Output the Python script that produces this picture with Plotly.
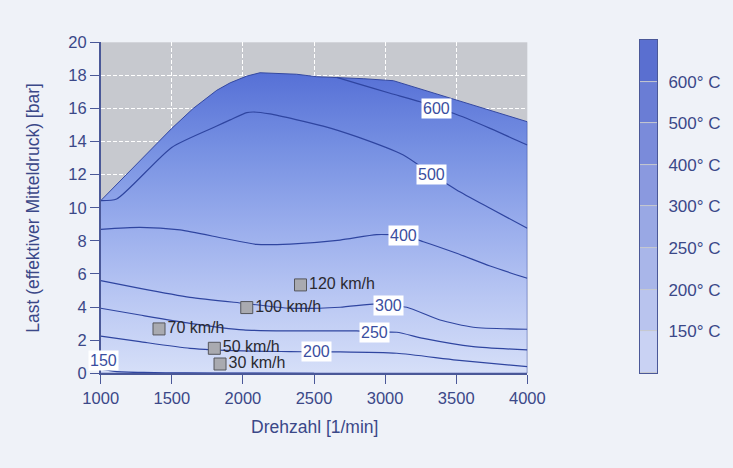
import plotly.graph_objects as go

# Engine speed [1/min] and full-load boundary (mean effective pressure [bar])
full_load_rpm = [1000, 1250, 1500, 1650, 1816, 1910, 2027, 2120, 2250, 2378,
                 2519, 2660, 2850, 3058, 3269, 3503, 3738, 4000]
full_load_bar = [10.43, 12.6, 14.8, 16.0, 17.1, 17.55, 17.96, 18.16, 18.12, 18.07,
                 17.92, 17.88, 17.8, 17.68, 17.12, 16.51, 15.91, 15.2]

# Exhaust-temperature isolines (rpm, bar) per level
iso_600_rpm = [2660, 2800, 3035, 3246, 3363, 3480, 3738, 4000]
iso_600_bar = [17.88, 17.52, 16.92, 16.41, 16.01, 15.71, 14.80, 13.79]

iso_500_rpm = [1000, 1112, 1499, 1816, 1910, 2027, 2073, 2190, 2565, 2800, 3128, 3327, 3503, 3738, 4000]
iso_500_bar = [10.43, 10.53, 13.65, 14.94, 15.31, 15.75, 15.79, 15.67, 14.94, 14.30, 13.19, 12.04, 11.08, 9.97, 8.76]

iso_400_rpm = [1000, 1276, 1558, 1862, 2097, 2331, 2683, 2941, 3128, 3269, 3503, 3738, 4000]
iso_400_bar = [8.70, 8.82, 8.66, 8.16, 7.79, 7.81, 8.05, 8.38, 8.32, 7.95, 7.25, 6.48, 5.74]

iso_300_rpm = [1000, 1276, 1628, 2003, 2331, 2683, 2941, 3023, 3152, 3386, 3620, 4000]
iso_300_bar = [5.60, 5.13, 4.59, 4.23, 3.93, 3.99, 4.19, 4.09, 3.99, 3.22, 2.78, 2.66]

iso_250_rpm = [1000, 1276, 1628, 2003, 2331, 2800, 2924, 3082, 3269, 3620, 4000]
iso_250_bar = [3.93, 3.52, 3.02, 2.62, 2.56, 2.56, 2.48, 2.48, 2.11, 1.61, 1.41]

iso_200_rpm = [1000, 1276, 1628, 2003, 2331, 2519, 2683, 3082, 3503, 4000]
iso_200_bar = [2.25, 1.91, 1.51, 1.35, 1.31, 1.29, 1.29, 1.21, 0.80, 0.40]

iso_150_rpm = [1000, 1100, 1300, 1600, 2000, 2500]
iso_150_bar = [0.25, 0.12, 0.05, 0.02, 0.01, 0.0]

# Isoline label positions
iso_labels = ["600", "500", "400", "300", "250", "200", "150"]
iso_label_rpm = [3363, 3327, 3128, 3023, 2924, 2519, 1023]
iso_label_bar = [16.01, 12.04, 8.32, 4.09, 2.48, 1.29, 0.80]

# Vehicle speed operating points
speed_labels = ["120 km/h", "100 km/h", "70 km/h", "50 km/h", "30 km/h"]
speed_rpm = [2405, 2027, 1410, 1799, 1839]
speed_bar = [5.34, 3.97, 2.68, 1.51, 0.56]

# Temperature legend classes
legend_ticks = ["150° C", "200° C", "250° C", "300° C", "400° C", "500° C", "600° C"]
legend_bands = [0, 1, 2, 3, 4, 5, 6, 7]

FONT = "Liberation Sans, Arial, sans-serif"
INK = "#3b4888"
LINE = "#2f45a0"

fig = go.Figure()

# Operating area below the full-load curve, shaded bottom to top
fig.add_trace(go.Scatter(
    x=full_load_rpm + [4000, 1000],
    y=full_load_bar + [0, 0],
    mode="lines",
    line=dict(color="#3448a0", width=1),
    fill="toself",
    fillgradient=dict(type="vertical",
                      colorscale=[[0, "#d6dff8"], [0.25, "#b9c7f3"],
                                  [0.5, "#98acec"], [0.75, "#7690e2"], [1, "#5670d6"]]),
    hoverinfo="skip", showlegend=False,
))

for xs, ys in [(iso_600_rpm, iso_600_bar), (iso_500_rpm, iso_500_bar),
               (iso_400_rpm, iso_400_bar), (iso_300_rpm, iso_300_bar),
               (iso_250_rpm, iso_250_bar), (iso_200_rpm, iso_200_bar),
               (iso_150_rpm, iso_150_bar)]:
    fig.add_trace(go.Scatter(x=xs, y=ys, mode="lines",
                             line=dict(color=LINE, width=1.2, shape="spline", smoothing=0.6),
                             hoverinfo="skip", showlegend=False))

fig.add_trace(go.Scatter(
    x=speed_rpm, y=speed_bar, text=speed_labels,
    mode="markers+text", textposition="middle right",
    textfont=dict(family=FONT, size=16, color="#2a2a30"),
    marker=dict(symbol="square", size=12, color="#a9aab0", line=dict(color="#55565c", width=1)),
    showlegend=False, cliponaxis=False,
))

for t, xv, yv in zip(iso_labels, iso_label_rpm, iso_label_bar):
    fig.add_annotation(x=xv, y=yv, text=t, showarrow=False, bgcolor="white", borderpad=1,
                       font=dict(family=FONT, size=16, color="#3a4ea0"))

# Temperature legend bar
fig.add_trace(go.Heatmap(
    z=[[b] for b in legend_bands], x=[0], y=[b + 0.5 for b in legend_bands],
    colorscale=[[0, "#c9d2f3"], [1, "#5a6fd0"]], showscale=False, ygap=1,
    xaxis="x2", yaxis="y2", hoverinfo="skip",
))

axis_common = dict(showline=True, linecolor="#4a5898", linewidth=1.5, ticks="outside",
                   tickcolor="#4a5898", tickwidth=1.2, ticklen=9,
                   tickfont=dict(family=FONT, size=16.5, color=INK),
                   showgrid=True, gridcolor="white", griddash="4px,2px", gridwidth=1,
                   zeroline=False, automargin=False)

fig.update_layout(
    width=733, height=468,
    margin=dict(l=0, r=0, t=0, b=0),
    paper_bgcolor="#eff2f8", plot_bgcolor="#c7c9cf",
    xaxis=dict(domain=[0.1374, 0.7194], range=[1000, 4000],
               tickvals=[1000, 1500, 2000, 2500, 3000, 3500, 4000], **axis_common),
    yaxis=dict(domain=[0.2024, 0.9096], range=[0, 20], dtick=2, **axis_common),
    xaxis2=dict(domain=[0.8731, 0.8963], anchor="y2", range=[-0.5, 0.5], showticklabels=False,
                showgrid=False, zeroline=False, showline=True, mirror=True, linecolor="#4a5898",
                linewidth=1, ticks=""),
    yaxis2=dict(domain=[0.203, 0.9145], anchor="x2", side="right", range=[0, 8],
                tickvals=[1, 2, 3, 4, 5, 6, 7], ticktext=legend_ticks, showgrid=False,
                zeroline=False, showline=True, mirror=True, linecolor="#4a5898", linewidth=1,
                ticks="outside", ticklen=7, tickcolor="rgba(0,0,0,0)",
                tickfont=dict(family=FONT, size=17, color=INK), automargin=False),
    showlegend=False,
)

fig.add_annotation(xref="x domain", yref="paper", x=0.5, y=0.0876, yanchor="middle",
                   text="Drehzahl [1/min]", showarrow=False,
                   font=dict(family=FONT, size=17.5, color=INK))
fig.add_annotation(xref="paper", yref="y domain", x=0.045, y=0.5, xanchor="center",
                   text="Last (effektiver Mitteldruck) [bar]", textangle=-90, showarrow=False,
                   font=dict(family=FONT, size=17.5, color=INK))

fig.write_html("out.html")
